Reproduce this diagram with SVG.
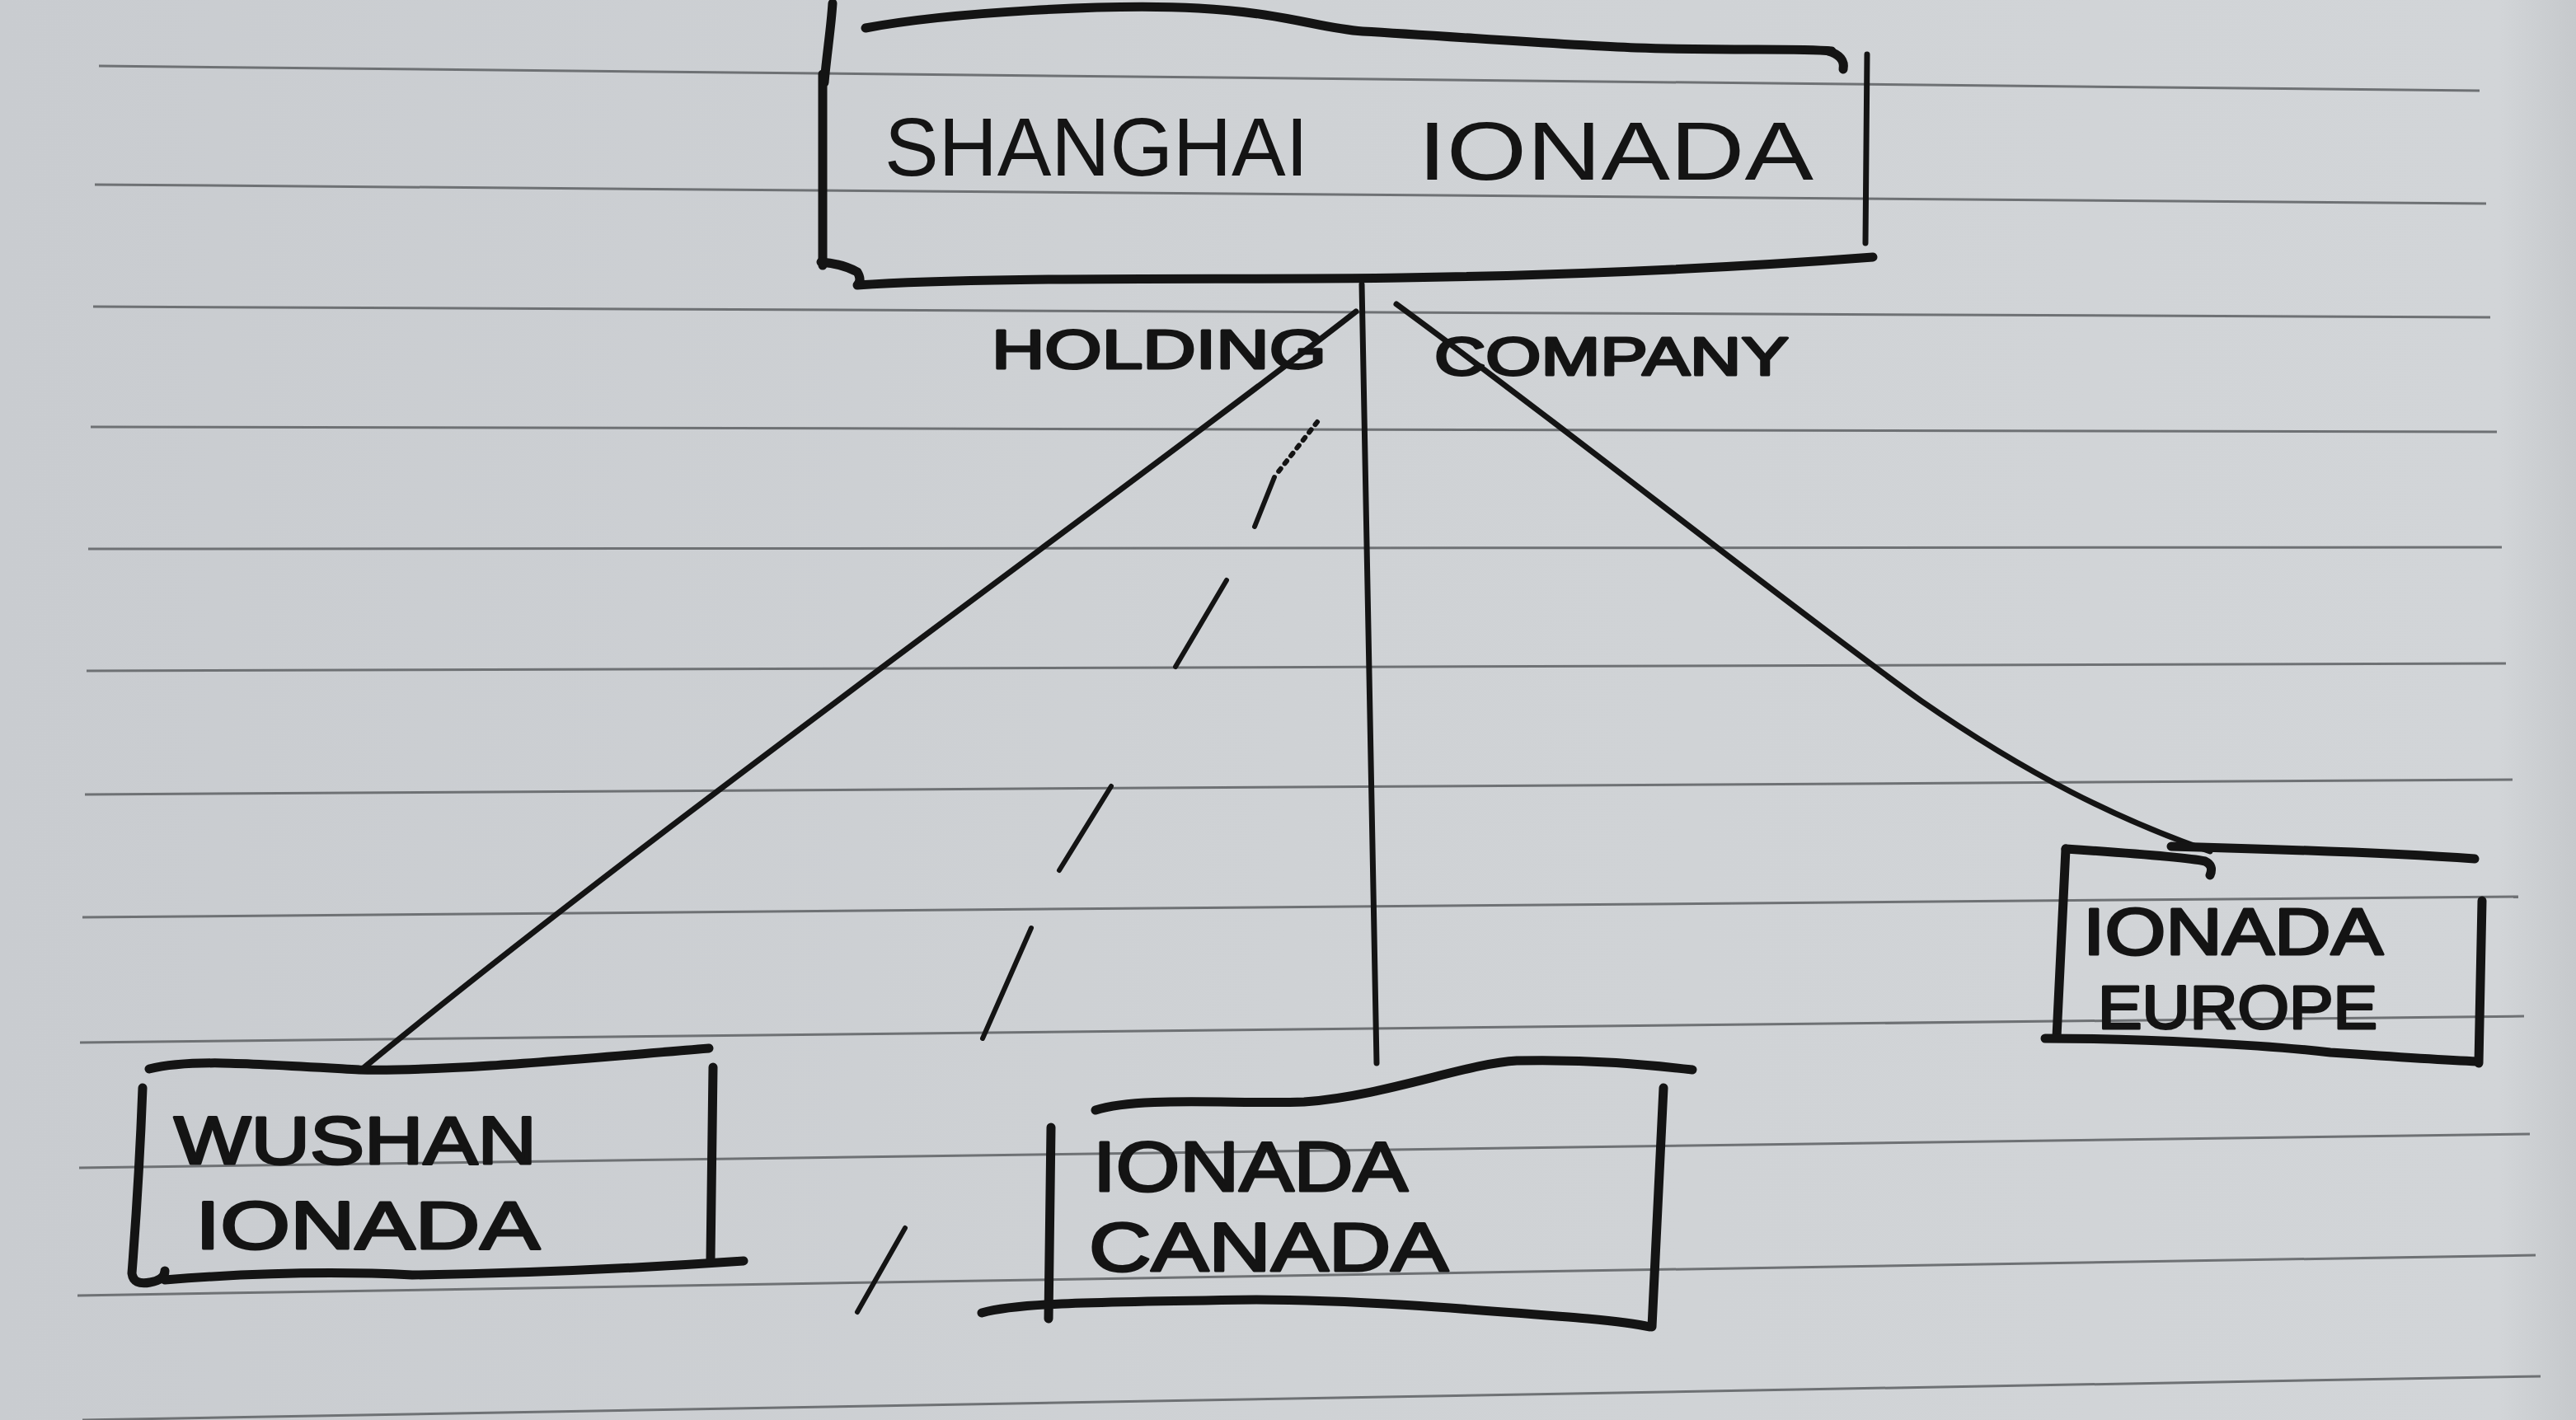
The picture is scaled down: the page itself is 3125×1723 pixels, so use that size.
<svg xmlns="http://www.w3.org/2000/svg" width="3125" height="1723" viewBox="0 0 3125 1723">
  <defs>
    <linearGradient id="paper" x1="0" y1="0" x2="1" y2="0">
      <stop offset="0" stop-color="#c9ccd0"/>
      <stop offset="0.5" stop-color="#cfd2d5"/>
      <stop offset="0.97" stop-color="#d2d5d8"/>
      <stop offset="1" stop-color="#c6c9cc"/>
    </linearGradient>
    <style>
      .rule { stroke: #6e7174; stroke-width: 3; fill: none; }
      .ink { stroke: #141414; stroke-width: 11; fill: none; stroke-linecap: round; stroke-linejoin: round; }
      .thin { stroke: #141414; stroke-width: 7; fill: none; stroke-linecap: round; }
      .dash { stroke: #141414; stroke-width: 6; fill: none; stroke-linecap: round; }
      .lbl { font-family: "Liberation Sans", "DejaVu Sans", Arial, sans-serif; fill: #141414; }
      .bold { stroke: #141414; stroke-width: 3; stroke-linejoin: round; }
    </style>
  </defs>

  <rect x="0" y="0" width="3125" height="1723" fill="url(#paper)"/>

  <g id="paper-rules">
    <line class="rule" x1="120" y1="80" x2="3008" y2="110"/>
    <line class="rule" x1="115" y1="224" x2="3016" y2="247"/>
    <line class="rule" x1="113" y1="372" x2="3021" y2="385"/>
    <line class="rule" x1="110" y1="518" x2="3029" y2="524"/>
    <line class="rule" x1="107" y1="666" x2="3035" y2="664"/>
    <line class="rule" x1="105" y1="814" x2="3040" y2="805"/>
    <line class="rule" x1="103" y1="964" x2="3048" y2="946"/>
    <line class="rule" x1="100" y1="1113" x2="3055" y2="1088"/>
    <line class="rule" x1="97" y1="1265" x2="3062" y2="1233"/>
    <line class="rule" x1="96" y1="1417" x2="3069" y2="1376"/>
    <line class="rule" x1="94" y1="1572" x2="3076" y2="1523"/>
    <line class="rule" x1="100" y1="1723" x2="3082" y2="1670"/>
  </g>

  <g id="connectors">
    <path class="thin" d="M1645,378 C1400,570 800,1000 442,1295"/>
    <path class="thin" d="M1652,345 C1658,600 1665,900 1670,1290"/>
    <path class="thin" d="M1694,369 C1900,520 2150,720 2330,850 C2460,940 2570,995 2681,1033"/>
    <g id="dashed-connector">
      <path class="dash" stroke-dasharray="4 8" d="M1598,512 L1548,576"/>
      <path class="dash" d="M1546,579 L1522,639"/>
      <path class="dash" d="M1488,704 L1426,809"/>
      <path class="dash" d="M1348,954 L1285,1056"/>
      <path class="dash" d="M1251,1126 L1192,1260"/>
      <path class="dash" d="M1098,1490 L1040,1592"/>
    </g>
  </g>

  <g id="node-shanghai">
    <path class="ink" stroke-width="30" d="M1010,4 C1008,35 1003,65 1000,100"/>
    <path class="ink" d="M998,90 L998,322"/>
    <path class="ink" d="M1050,34 C1150,15 1350,4 1454,10 C1560,16 1600,34 1653,38 C1760,44 1900,55 1985,58 C2100,62 2180,58 2222,62"/>
    <path class="ink" stroke-width="18" d="M2218,62 C2232,66 2238,74 2236,84"/>
    <path class="thin" stroke-width="6" d="M2265,66 L2263,295"/>
    <path class="ink" d="M996,318 Q1022,320 1040,330 Q1046,340 1040,346 C1200,335 1500,340 1700,337 C1900,334 2100,325 2272,312"/>
    <text class="lbl" font-size="100" x="1073" y="213" textLength="514" lengthAdjust="spacingAndGlyphs">SHANGHAI</text>
    <text class="lbl" font-size="100" x="1720" y="218" textLength="480" lengthAdjust="spacingAndGlyphs">IONADA</text>
  </g>

  <g id="label-holding-company">
    <text class="lbl bold" font-size="66" x="1203" y="447" textLength="406" lengthAdjust="spacingAndGlyphs">HOLDING</text>
    <text class="lbl bold" font-size="64" x="1740" y="455" textLength="430" lengthAdjust="spacingAndGlyphs">COMPANY</text>
  </g>

  <g id="node-wushan">
    <path class="ink" d="M181,1297 C230,1285 300,1290 436,1298 C550,1300 700,1285 860,1272"/>
    <path class="ink" d="M173,1320 C170,1400 165,1480 160,1545 Q162,1560 182,1556 Q200,1553 200,1542"/>
    <path class="ink" d="M200,1553 C300,1545 400,1542 500,1547 C650,1545 800,1537 902,1530"/>
    <path class="ink" d="M865,1295 L862,1528"/>
    <text class="lbl bold" font-size="82" x="211" y="1412" textLength="440" lengthAdjust="spacingAndGlyphs">WUSHAN</text>
    <text class="lbl bold" font-size="82" x="237" y="1515" textLength="418" lengthAdjust="spacingAndGlyphs">IONADA</text>
  </g>

  <g id="node-canada">
    <path class="ink" d="M1329,1347 C1380,1330 1500,1340 1582,1337 C1680,1330 1780,1290 1840,1287 C1930,1285 2000,1292 2053,1298"/>
    <path class="ink" d="M1275,1368 L1272,1600"/>
    <path class="ink" d="M1191,1593 C1230,1582 1300,1580 1524,1577 C1650,1577 1800,1590 1926,1600 Q1980,1605 2001,1610"/>
    <path class="ink" d="M2018,1320 L2004,1610"/>
    <text class="lbl bold" font-size="86" x="1326" y="1445" textLength="382" lengthAdjust="spacingAndGlyphs">IONADA</text>
    <text class="lbl bold" font-size="84" x="1321" y="1542" textLength="436" lengthAdjust="spacingAndGlyphs">CANADA</text>
  </g>

  <g id="node-europe">
    <path class="ink" d="M2506,1030 C2580,1035 2650,1040 2675,1045 Q2686,1050 2681,1062"/>
    <path class="ink" d="M2634,1027 C2750,1030 2900,1035 3002,1042"/>
    <path class="ink" d="M2506,1030 L2495,1258"/>
    <path class="ink" d="M2481,1260 C2600,1260 2750,1268 2827,1277 C2900,1282 2960,1286 3006,1288"/>
    <path class="ink" d="M3011,1093 L3007,1290"/>
    <text class="lbl bold" font-size="80" x="2527" y="1158" textLength="364" lengthAdjust="spacingAndGlyphs">IONADA</text>
    <text class="lbl bold" font-size="74" x="2545" y="1248" textLength="339" lengthAdjust="spacingAndGlyphs">EUROPE</text>
  </g>
</svg>
